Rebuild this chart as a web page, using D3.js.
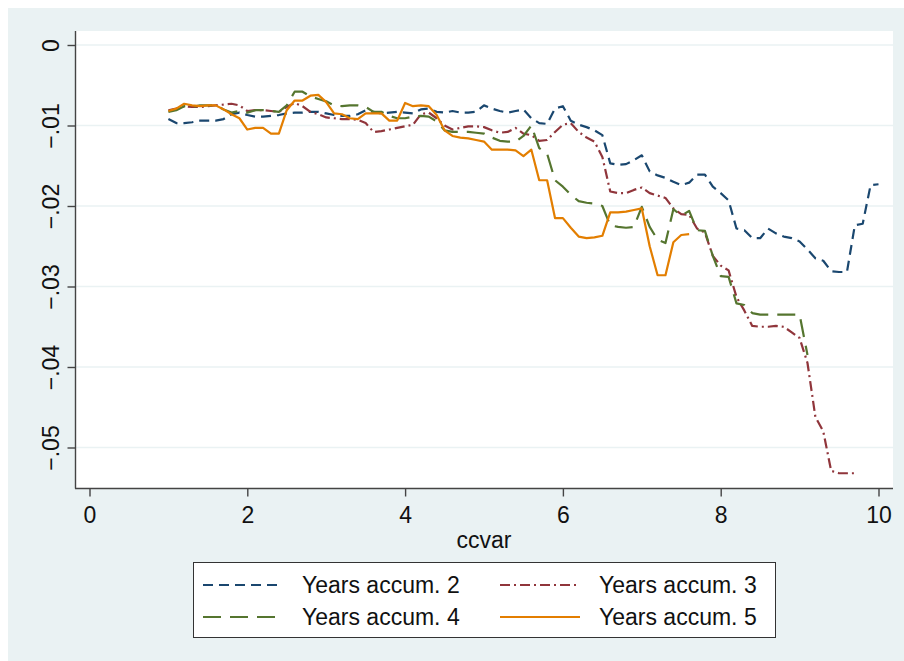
<!DOCTYPE html>
<html>
<head>
<meta charset="utf-8">
<script src="https://cdn.jsdelivr.net/npm/d3@7/dist/d3.min.js"></script>
<style>
  body { margin: 0; background: #fff; }
  svg { display: block; font-family: 'Liberation Sans', Arial, sans-serif; }
</style>
</head>
<body>
<script>
// values (ccvar on x, effect on y)
const xTicks = [0, 2, 4, 6, 8, 10]
const yTicks = [0, -0.01, -0.02, -0.03, -0.04, -0.05]
const seriesNames = ['Years accum. 2', 'Years accum. 3', 'Years accum. 4', 'Years accum. 5']

const x2 = [1.0, 1.1, 1.2, 1.3, 1.4, 1.5, 1.6, 1.7, 1.8, 1.9, 2.0, 2.1, 2.2, 2.3, 2.4, 2.5, 2.6, 2.7, 2.8, 2.9,
  3.0, 3.1, 3.2, 3.3, 3.4, 3.5, 3.6, 3.7, 3.8, 3.9, 4.0, 4.1, 4.2, 4.3, 4.4, 4.5, 4.6, 4.7, 4.8, 4.9,
  5.0, 5.1, 5.2, 5.3, 5.4, 5.5, 5.6, 5.7, 5.8, 5.9, 6.0, 6.1, 6.2, 6.3, 6.4, 6.5, 6.6, 6.7, 6.8, 6.9,
  7.0, 7.1, 7.2, 7.3, 7.4, 7.5, 7.6, 7.7, 7.8, 7.9, 8.0, 8.1, 8.2, 8.3, 8.4, 8.5, 8.6, 8.7, 8.8, 8.9,
  9.0, 9.1, 9.2, 9.3, 9.4, 9.5, 9.6, 9.7, 9.8, 9.9, 10.0]
const y2 = [-0.0092, -0.0097, -0.0097, -0.0096, -0.0094, -0.0094, -0.0094, -0.0092, -0.0086, -0.0084,
  -0.0087, -0.0089, -0.0089, -0.0088, -0.0087, -0.0085, -0.0084, -0.0084, -0.0083, -0.0083,
  -0.0085, -0.0087, -0.0088, -0.0088, -0.0086, -0.0081, -0.0083, -0.0085, -0.0084, -0.0083,
  -0.0084, -0.0085, -0.0080, -0.0079, -0.0083, -0.0084, -0.0082, -0.0084, -0.0084, -0.0083,
  -0.0075, -0.0079, -0.0082, -0.0084, -0.0082, -0.0080, -0.0091, -0.0097, -0.0098, -0.0079,
  -0.0076, -0.0094, -0.0099, -0.0102, -0.0106, -0.0112, -0.0147, -0.0149, -0.0148, -0.0143,
  -0.0137, -0.0157, -0.0162, -0.0165, -0.0170, -0.0174, -0.0171, -0.0161, -0.0161, -0.0176,
  -0.0184, -0.0193, -0.0228, -0.0230, -0.0240, -0.0240, -0.0228, -0.0234, -0.0238, -0.0240,
  -0.0244, -0.0254, -0.0265, -0.0268, -0.0281, -0.0282, -0.0282, -0.0224, -0.0222, -0.0174, -0.0173]

const x3 = [1.0, 1.1, 1.2, 1.3, 1.4, 1.5, 1.6, 1.7, 1.8, 1.9, 2.0, 2.1, 2.2, 2.3, 2.4, 2.5, 2.6, 2.7, 2.8, 2.9,
  3.0, 3.1, 3.2, 3.3, 3.4, 3.5, 3.6, 3.7, 3.8, 3.9, 4.0, 4.1, 4.2, 4.3, 4.4, 4.5, 4.6, 4.7, 4.8, 4.9,
  5.0, 5.1, 5.2, 5.3, 5.4, 5.5, 5.6, 5.7, 5.8, 5.9, 6.0, 6.1, 6.2, 6.3, 6.4, 6.5, 6.6, 6.7, 6.8, 6.9,
  7.0, 7.1, 7.2, 7.3, 7.4, 7.5, 7.6, 7.7, 7.8, 7.9, 8.0, 8.1, 8.2, 8.3, 8.4, 8.5, 8.6, 8.7, 8.8, 8.9,
  9.0, 9.1, 9.2, 9.3, 9.4, 9.5, 9.6, 9.7]
const y3 = [-0.0081, -0.0079, -0.0076, -0.0077, -0.0077, -0.0076, -0.0075, -0.0074, -0.0073, -0.0075,
  -0.0082, -0.0081, -0.0081, -0.0082, -0.0083, -0.0077, -0.0072, -0.0076, -0.0083, -0.0086,
  -0.0090, -0.0091, -0.0092, -0.0092, -0.0093, -0.0097, -0.0108, -0.0107, -0.0105, -0.0103,
  -0.0101, -0.0099, -0.0086, -0.0084, -0.0091, -0.0100, -0.0105, -0.0103, -0.0101, -0.0101,
  -0.0102, -0.0106, -0.0109, -0.0108, -0.0103, -0.0110, -0.0112, -0.0119, -0.0118, -0.0108,
  -0.0099, -0.0097, -0.0108, -0.0115, -0.0120, -0.0139, -0.0182, -0.0184, -0.0184, -0.0180,
  -0.0177, -0.0184, -0.0187, -0.0190, -0.0203, -0.0210, -0.0211, -0.0228, -0.0233, -0.0262,
  -0.0274, -0.0280, -0.0313, -0.0330, -0.0349, -0.0350, -0.0350, -0.0349, -0.0350, -0.0357,
  -0.0364, -0.0395, -0.0462, -0.0480, -0.0529, -0.0532, -0.0532, -0.0532]

const x4 = [1.0, 1.1, 1.2, 1.3, 1.4, 1.5, 1.6, 1.7, 1.8, 1.9, 2.0, 2.1, 2.2, 2.3, 2.4, 2.5, 2.6, 2.7, 2.8, 2.9,
  3.0, 3.1, 3.2, 3.3, 3.4, 3.5, 3.6, 3.7, 3.8, 3.9, 4.0, 4.1, 4.2, 4.3, 4.4, 4.5, 4.6, 4.7, 4.8, 4.9,
  5.0, 5.1, 5.2, 5.3, 5.4, 5.5, 5.6, 5.7, 5.8, 5.9, 6.0, 6.1, 6.2, 6.3, 6.4, 6.5, 6.6, 6.7, 6.8, 6.9,
  7.0, 7.1, 7.2, 7.3, 7.4, 7.5, 7.6, 7.7, 7.8, 7.9, 8.0, 8.1, 8.2, 8.3, 8.4, 8.5, 8.6, 8.7, 8.8, 8.9,
  9.0, 9.1]
const y4 = [-0.0083, -0.0081, -0.0076, -0.0077, -0.0075, -0.0075, -0.0075, -0.0080, -0.0084, -0.0082,
  -0.0084, -0.0081, -0.0081, -0.0082, -0.0083, -0.0075, -0.0058, -0.0058, -0.0064, -0.0067,
  -0.0070, -0.0075, -0.0076, -0.0075, -0.0075, -0.0077, -0.0083, -0.0083, -0.0088, -0.0091,
  -0.0091, -0.0089, -0.0088, -0.0089, -0.0095, -0.0106, -0.0108, -0.0108, -0.0108, -0.0109,
  -0.0110, -0.0115, -0.0119, -0.0120, -0.0120, -0.0113, -0.0100, -0.0128, -0.0135, -0.0168,
  -0.0176, -0.0186, -0.0194, -0.0196, -0.0197, -0.0200, -0.0224, -0.0226, -0.0227, -0.0226,
  -0.0201, -0.0226, -0.0242, -0.0246, -0.0204, -0.0212, -0.0206, -0.0230, -0.0231, -0.0262,
  -0.0287, -0.0288, -0.0321, -0.0323, -0.0333, -0.0335, -0.0335, -0.0335, -0.0335, -0.0335,
  -0.0335, -0.0385]

const x5 = [1.0, 1.1, 1.2, 1.3, 1.4, 1.5, 1.6, 1.7, 1.8, 1.9, 2.0, 2.1, 2.2, 2.3, 2.4, 2.5, 2.6, 2.7, 2.8, 2.9,
  3.0, 3.1, 3.2, 3.3, 3.4, 3.5, 3.6, 3.7, 3.8, 3.9, 4.0, 4.1, 4.2, 4.3, 4.4, 4.5, 4.6, 4.7, 4.8, 4.9,
  5.0, 5.1, 5.2, 5.3, 5.4, 5.5, 5.6, 5.7, 5.8, 5.9, 6.0, 6.1, 6.2, 6.3, 6.4, 6.5, 6.6, 6.7, 6.8, 6.9,
  7.0, 7.1, 7.2, 7.3, 7.4, 7.5, 7.6]
const y5 = [-0.0082, -0.0079, -0.0073, -0.0075, -0.0076, -0.0075, -0.0075, -0.0080, -0.0086, -0.0091,
  -0.0105, -0.0103, -0.0103, -0.0110, -0.0110, -0.0081, -0.0069, -0.0069, -0.0063, -0.0062,
  -0.0071, -0.0085, -0.0086, -0.0091, -0.0092, -0.0085, -0.0085, -0.0085, -0.0094, -0.0094,
  -0.0072, -0.0076, -0.0075, -0.0076, -0.0087, -0.0106, -0.0113, -0.0115, -0.0116, -0.0118,
  -0.0120, -0.0130, -0.0130, -0.0130, -0.0131, -0.0138, -0.0130, -0.0168, -0.0168, -0.0215,
  -0.0215, -0.0227, -0.0238, -0.0240, -0.0239, -0.0237, -0.0208, -0.0208, -0.0207, -0.0205,
  -0.0203, -0.0250, -0.0286, -0.0286, -0.0245, -0.0236, -0.0235]

const colors = ['#1a476f', '#90353b', '#55752f', '#e37e00']
const dashes = ['10,6', '10,4,2,4', '18,9', null]

const series = [[x2, y2], [x3, y3], [x4, y4], [x5, y5]].map((d, i) => ({
  name: seriesNames[i],
  color: colors[i],
  dash: dashes[i],
  points: d[0].map((v, j) => ({ x: v, y: d[1][j] }))
}))

const sizes = {
  width: 904,
  height: 661,
  plot: { left: 75, right: 893, top: 31, bottom: 488 },
  font: 23
}

const svg = d3.select('body')
  .append('svg')
  .attr('width', sizes.width)
  .attr('height', sizes.height)

// outer graph region
svg.append('rect')
  .attr('x', 8)
  .attr('y', 8)
  .attr('width', sizes.width - 8)
  .attr('height', sizes.height - 8)
  .attr('fill', '#eaf2f3')

const p = sizes.plot
svg.append('rect')
  .attr('x', p.left)
  .attr('y', p.top)
  .attr('width', p.right - p.left)
  .attr('height', p.bottom - p.top)
  .attr('fill', '#fff')

const xScale = d3.scaleLinear().domain([0, 10]).range([89.5, 878.5])
const yScale = d3.scaleLinear().domain([0, -0.05]).range([45, 447.5])

// grid
svg.append('g')
  .selectAll('line')
  .data(yTicks)
  .enter()
  .append('line')
  .attr('x1', p.left)
  .attr('x2', p.right)
  .attr('y1', d => yScale(d))
  .attr('y2', d => yScale(d))
  .attr('stroke', '#eaf2f3')
  .attr('stroke-width', 1.6)

// lines
const line = d3.line()
  .x(d => xScale(d.x))
  .y(d => yScale(d.y))

svg.append('g')
  .selectAll('path')
  .data(series)
  .enter()
  .append('path')
  .attr('d', d => line(d.points))
  .attr('fill', 'none')
  .attr('stroke', d => d.color)
  .attr('stroke-width', 2.2)
  .attr('stroke-dasharray', d => d.dash)
  .attr('stroke-linejoin', 'round')

// axes
const fmt = d => d === 0 ? '0' : d3.format('.2f')(d).replace('0.', '.')

const yAxis = svg.append('g')
  .attr('transform', `translate(${p.left + 0.5},0)`)
  .call(d3.axisLeft(yScale).tickValues(yTicks).tickSize(8).tickFormat(fmt))
yAxis.select('.domain')
  .attr('d', `M0,${p.top}V${p.bottom + 0.5}`)
  .attr('stroke', '#444')
  .attr('stroke-width', 1.4)
yAxis.selectAll('.tick line').attr('stroke', '#444').attr('stroke-width', 1.4)
yAxis.selectAll('.tick text')
  .attr('x', null)
  .attr('dy', null)
  .attr('transform', 'translate(-17,0) rotate(-90)')
  .attr('text-anchor', 'middle')
  .attr('fill', '#111')
  .style('font-size', sizes.font + 'px')
  .style('font-family', 'Liberation Sans, Arial, sans-serif')

const xAxis = svg.append('g')
  .attr('transform', `translate(0,${p.bottom + 0.5})`)
  .call(d3.axisBottom(xScale).tickValues(xTicks).tickSize(8).tickFormat(d3.format('d')))
xAxis.select('.domain')
  .attr('d', `M${p.left},0H${p.right}`)
  .attr('stroke', '#444')
  .attr('stroke-width', 1.4)
xAxis.selectAll('.tick line').attr('stroke', '#444').attr('stroke-width', 1.4)
xAxis.selectAll('.tick text')
  .attr('y', 34.5)
  .attr('dy', null)
  .attr('fill', '#111')
  .style('font-size', sizes.font + 'px')
  .style('font-family', 'Liberation Sans, Arial, sans-serif')

svg.append('text')
  .attr('x', (p.left + p.right) / 2)
  .attr('y', 548)
  .attr('text-anchor', 'middle')
  .attr('fill', '#111')
  .style('font-size', sizes.font + 'px')
  .text('ccvar')

// legend
const legend = svg.append('g')
legend.append('rect')
  .attr('x', 193.5)
  .attr('y', 562.5)
  .attr('width', 582)
  .attr('height', 75)
  .attr('fill', '#fff')
  .attr('stroke', '#333')
  .attr('stroke-width', 1)

const items = legend.selectAll('.item')
  .data(series)
  .enter()
  .append('g')
  .attr('class', 'item')
  .attr('transform', (d, i) => `translate(${i % 2 === 0 ? 203 : 500},${i < 2 ? 585 : 617})`)
items.append('line')
  .attr('x1', 0)
  .attr('x2', 80)
  .attr('stroke', d => d.color)
  .attr('stroke-width', 1.8)
  .attr('stroke-dasharray', d => d.dash)
items.append('text')
  .attr('x', 99)
  .attr('y', 8)
  .attr('fill', '#111')
  .style('font-size', sizes.font + 'px')
  .text(d => d.name)
</script>
</body>
</html>
